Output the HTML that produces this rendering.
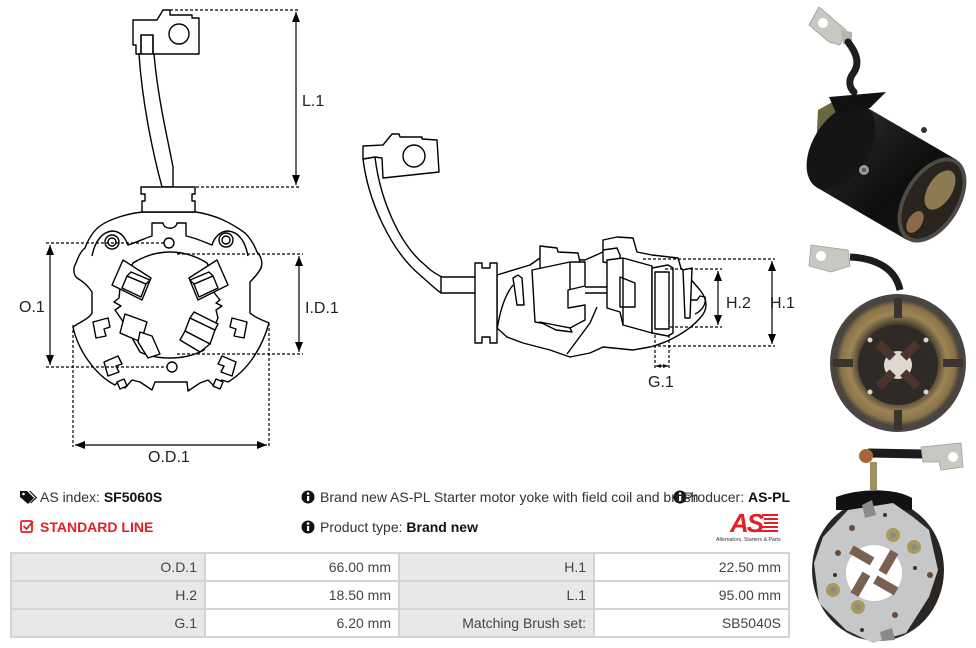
<!DOCTYPE html>
<html><head><meta charset="utf-8">
<style>
html,body{margin:0;padding:0;background:#fff;}
body{width:976px;height:648px;position:relative;overflow:hidden;font-family:"Liberation Sans",sans-serif;}
svg.main{position:absolute;left:0;top:0;}
.t{position:absolute;font-size:14px;color:#333;white-space:nowrap;line-height:16px;}
.c{position:absolute;font-size:14px;color:#444;text-align:right;box-sizing:border-box;padding-right:7px;line-height:26px;white-space:nowrap;}
.g{background:#e8e8e8;}
.w{background:#fff;}
</style></head><body>
<svg class="main" width="976" height="648" viewBox="0 0 976 648" xmlns="http://www.w3.org/2000/svg">
<defs>
<marker id="ar" viewBox="0 0 10 8" refX="10" refY="4" markerWidth="10" markerHeight="8" markerUnits="userSpaceOnUse" orient="auto-start-reverse"><path d="M0,0 L10,4 L0,8 Z" fill="#000"/></marker>
<marker id="ars" viewBox="0 0 6 5" refX="6" refY="2.5" markerWidth="5" markerHeight="4" markerUnits="userSpaceOnUse" orient="auto-start-reverse"><path d="M0,0 L6,2.5 L0,5 Z" fill="#000"/></marker>
<linearGradient id="cyl" x1="0" y1="0" x2="1" y2="1" gradientUnits="objectBoundingBox">
<stop offset="0" stop-color="#3a3a3a"/><stop offset="0.35" stop-color="#1c1c1c"/><stop offset="0.6" stop-color="#0e0e0e"/><stop offset="1" stop-color="#1a1a1a"/></linearGradient>
<radialGradient id="coil" cx="0.5" cy="0.5" r="0.5"><stop offset="0.6" stop-color="#3a322a"/><stop offset="0.78" stop-color="#9c8555"/><stop offset="0.92" stop-color="#8a7448"/><stop offset="1" stop-color="#4a443e"/></radialGradient>
</defs>

<!-- ============ LEFT DRAWING ============ -->
<g fill="#fff" stroke="#000" stroke-width="1.4" stroke-linejoin="round">
<!-- tab -->
<path d="M133,20 L157,20 L163,10 L170,10 L170,15 L192,15 L192,18 L199,18 L199,54 L153,54 L153,35 L141,35 L141,54 L136,54 L136,45 L133,45 Z"/>
<circle cx="179" cy="34" r="10"/>
<path fill="none" d="M141,35 L141,54 M153,35 L153,54"/>
<!-- wire -->
<path d="M139,54 C142,100 152,150 162,187 L173,187 L173,167 C168,140 158,100 154,54 Z"/>
<!-- outer body -->
<path d="M142,212 C125,214 108,220 100,226 C92,232 88,240 85,248 C80,252 78,258 76,263 C73,268 73,274 77,278 C82,281 86,284 89,288 L92,292 L92,313 C90,318 80,322 73,327 C78,350 95,375 115,385 L118,382 L125,388 L132,380 L140,382 L152,390 L155,382 L187,382 L188,391 L200,383 L208,380 L215,387 L222,380 L228,382 C248,370 262,348 269,323 C262,320 254,317 250,313 L250,282 C254,278 258,274 261,268 C263,262 261,256 257,252 C254,244 250,238 245,233 C230,222 215,215 196,212 Z"/>
<!-- connector -->
<path d="M141,187 H195 V194 H192 V201 H195 V212 H142 V201 H145 V194 H141 Z"/>
<!-- inner plate lines -->
<path fill="none" d="M92,256 C95,240 103,232 112,231 C122,231 126,240 128,245 C138,242 145,238 152,236 L152,223 L163,223 C164,230 176,230 177,223 L186,223 L186,236 C196,238 204,242 212,245 C214,238 220,231 228,231 C238,232 245,240 248,256"/>
<circle cx="112" cy="242" r="7"/><circle cx="112" cy="242" r="4"/>
<circle cx="226" cy="240" r="7"/><circle cx="226" cy="240" r="4"/>
<circle cx="169" cy="243" r="5"/>
<circle cx="172" cy="367" r="5"/>
<!-- central window -->
<path d="M133,263 C146,255 158,252 170,252 C183,252 196,256 207,263 L216,280 L212,290 L220,300 L216,303 L222,306 L216,310 L218,318 L204,350 C193,356 182,358 170,358 C158,358 148,356 140,352 L122,320 L115,310 L121,306 L114,302 L119,298 L120,288 Z"/>
<!-- brush holders -->
<polygon points="123,260 112,285 142,300 151,278"/>
<polygon points="127,276 122,288 141,297 146,284"/>
<polygon points="131,272 150,280 146,284 127,276"/>
<polygon points="217,260 228,285 198,300 189,278"/>
<polygon points="213,276 218,288 199,297 194,284"/>
<polygon points="209,272 190,280 194,284 213,276"/>
<polygon points="125,314 147,322 141,342 120,333"/>
<polygon points="140,332 152,336 160,354 148,358 138,342"/>
<polygon points="190,318 215,330 210,344 185,331"/>
<polygon points="194,312 218,324 215,330 190,318"/>
<polygon points="185,331 180,340 200,352 210,344"/>
<!-- side tabs -->
<polygon points="93,322 108,318 110,327 104,329 106,336 96,338"/>
<polygon points="247,322 232,318 230,327 236,329 234,336 244,338"/>
<polygon points="104,362 118,356 122,364 116,366 119,372 108,376"/>
<polygon points="236,362 222,356 218,364 224,366 221,372 232,376"/>
<polygon points="117,382 124,379 127,386 120,389"/>
<polygon points="216,379 223,382 220,389 213,386"/>
</g>
<!-- left dims -->
<g stroke="#000" stroke-width="1.2" fill="none">
<g stroke-dasharray="3,2">
<line x1="170" y1="10" x2="300" y2="10"/>
<line x1="196" y1="187" x2="300" y2="187"/>
<line x1="46" y1="243" x2="164" y2="243"/>
<line x1="46" y1="367" x2="167" y2="367"/>
<line x1="177" y1="254" x2="303" y2="254"/>
<line x1="177" y1="354" x2="303" y2="354"/>
<line x1="73" y1="325" x2="73" y2="447"/>
<line x1="269" y1="323" x2="269" y2="447"/>
</g>
<line x1="296" y1="12" x2="296" y2="185" marker-start="url(#ar)" marker-end="url(#ar)"/>
<line x1="50" y1="245" x2="50" y2="365" marker-start="url(#ar)" marker-end="url(#ar)"/>
<line x1="299" y1="256" x2="299" y2="352" marker-start="url(#ar)" marker-end="url(#ar)"/>
<line x1="75" y1="445" x2="267" y2="445" marker-start="url(#ar)" marker-end="url(#ar)"/>
</g>
<g font-family="Liberation Sans, sans-serif" font-size="16" fill="#222">
<text x="302" y="106">L.1</text>
<text x="19" y="312">O.1</text>
<text x="305" y="313">I.D.1</text>
<text x="148" y="462">O.D.1</text>
<text x="726" y="308">H.2</text>
<text x="770" y="308">H.1</text>
<text x="648" y="387">G.1</text>
</g>

<!-- ============ MIDDLE DRAWING ============ -->
<g fill="#fff" stroke="#000" stroke-width="1.4" stroke-linejoin="round">
<!-- wire -->
<path d="M363,159 C368,200 390,250 420,275 C428,282 434,288 441,293 L476,293 L476,277 L442,277 C432,272 428,268 425,265 C400,245 380,200 375,157 Z"/>
<line x1="441" y1="277" x2="441" y2="293"/>
<!-- tab -->
<path d="M363,146 L383,145 L392,134 L399,134 L400,137 L422,137 L422,139 L437,140 L439,172 L383,178 L382,158 L375,157 L363,159 Z"/>
<circle cx="414" cy="156" r="11"/>
<!-- body blob -->
<path d="M497,275 L530,265 L540,258 L585,260 L603,252 L603,240 L617,237 L633,238 L637,252 L652,255 L678,258 L681,268 L700,290 C708,300 708,310 700,318 C690,330 670,342 650,347 L633,350 L603,347 L590,353 L570,357 L550,350 L523,343 L507,337 L497,328 Z"/>
<path fill="none" d="M567,354 L590,323 L597,307 M497,330 C500,310 505,295 513,285"/>
<!-- flange -->
<path d="M475,263 H482 V268 H490 V263 H497 V343 H490 V337 H482 V343 H475 Z"/>
<!-- small bracket -->
<polygon points="513,278 518,275 522,278 524,305 517,305"/>
<!-- holder 1 -->
<polygon points="540,246 557,248 558,252 578,253 580,263 560,266 540,270"/>
<polygon points="532,270 570,262 585,262 585,286 568,290 568,308 585,305 585,320 570,328 535,322"/>
<line x1="570" y1="262" x2="570" y2="290"/>
<polygon points="540,322 556,330 572,332 570,328"/>
<!-- connecting bar -->
<path fill="none" d="M585,287 L607,287 M585,293 L607,293"/>
<!-- holder 2 -->
<polygon points="603,262 603,250 617,248 620,255 620,265"/>
<polygon points="607,260 623,258 652,266 652,333 623,325 620,312 607,308"/>
<polygon points="620,277 635,283 635,307 620,307"/>
<line x1="623" y1="258" x2="623" y2="325"/>
<!-- brush box -->
<polygon points="652,268 668,265 673,268 673,333 668,336 652,333"/>
<rect x="655" y="272" width="14" height="57"/>
<!-- right strip & hook -->
<polygon points="683,270 692,268 690,318 685,318"/>
<path fill="none" d="M690,300 L697,300 L700,296 L705,297 C707,305 700,312 695,314"/>
</g>
<g stroke="#000" stroke-width="1.2" fill="none">
<g stroke-dasharray="3,2">
<line x1="643" y1="259" x2="775" y2="259"/>
<line x1="653" y1="346" x2="775" y2="346"/>
<line x1="665" y1="269" x2="722" y2="269"/>
<line x1="670" y1="327" x2="722" y2="327"/>
<line x1="655" y1="335" x2="655" y2="369"/>
<line x1="669" y1="335" x2="669" y2="369"/>
</g>
<line x1="718" y1="271" x2="718" y2="325" marker-start="url(#ar)" marker-end="url(#ar)"/>
<line x1="772" y1="261" x2="772" y2="344" marker-start="url(#ar)" marker-end="url(#ar)"/>
<line x1="656" y1="366" x2="668" y2="366" marker-start="url(#ars)" marker-end="url(#ars)"/>
</g>

<!-- ============ PHOTO 1 ============ -->
<g>
<polygon points="809,25 819,7 846,30 840,45 829,42" fill="#c8c8c2" stroke="#9a9a94" stroke-width="0.8"/>
<circle cx="823" cy="23" r="5" fill="#fff"/>
<polygon points="841,30 852,32 852,44 843,44" fill="#b9b5a8"/>
<path d="M848,42 C858,55 860,65 852,75 C848,82 850,88 854,92" fill="none" stroke="#1e1e1e" stroke-width="7" stroke-linecap="round"/>
<path d="M818,110 L836,100 L845,140 L826,160 L816,150 Z" fill="#6a6840"/>
<polygon points="866,107 957,160 907,240 816,187" fill="url(#cyl)"/>
<ellipse cx="841" cy="147" rx="47" ry="28" transform="rotate(-58 841 147)" fill="#151515"/>
<ellipse cx="932" cy="200" rx="47" ry="28" transform="rotate(-58 932 200)" fill="#4e4a44"/>
<ellipse cx="932" cy="200" rx="43" ry="24" transform="rotate(-58 932 200)" fill="#2a241e"/>
<ellipse cx="940" cy="190" rx="22" ry="12" transform="rotate(-58 940 190)" fill="#8c7a52"/>
<ellipse cx="915" cy="222" rx="12" ry="7" transform="rotate(-58 915 222)" fill="#8a6a48"/>
<path d="M829,97 L886,92 L870,108 L850,112 L836,113 Z" fill="#111"/>
<circle cx="864" cy="170" r="5" fill="#9a9a9a"/><circle cx="864" cy="170" r="2" fill="#555"/>
<circle cx="924" cy="130" r="3" fill="#333"/>
</g>

<!-- ============ PHOTO 2 ============ -->
<g>
<polygon points="811,245 848,250 850,266 831,272 809,266" fill="#c8c8c2" stroke="#a0a09a" stroke-width="0.8"/>
<circle cx="821" cy="256" r="5" fill="#fff"/>
<path d="M850,257 C872,258 895,266 900,290" fill="none" stroke="#1c1c1c" stroke-width="7"/>
<ellipse cx="898" cy="363" rx="68" ry="69" fill="#4a4540"/>
<ellipse cx="898" cy="363" rx="62" ry="63" fill="url(#coil)"/>
<g fill="#3a352f">
<rect x="894" y="298" width="8" height="20"/><rect x="894" y="410" width="8" height="20"/>
<rect x="833" y="359" width="20" height="8"/><rect x="943" y="359" width="20" height="8"/>
</g>
<circle cx="898" cy="365" r="40" fill="#2e2a26"/>
<circle cx="898" cy="365" r="14" fill="#ddd9d0"/>
<g fill="#4a342c">
<rect x="876" y="346" width="20" height="9" transform="rotate(45 886 350)"/>
<rect x="900" y="346" width="20" height="9" transform="rotate(-45 910 350)"/>
<rect x="876" y="375" width="20" height="9" transform="rotate(-45 886 380)"/>
<rect x="900" y="375" width="20" height="9" transform="rotate(45 910 380)"/>
</g>
<g fill="#d8d6d0"><circle cx="870" cy="340" r="2.5"/><circle cx="926" cy="340" r="2.5"/><circle cx="870" cy="392" r="2.5"/><circle cx="926" cy="392" r="2.5"/></g>
</g>

<!-- ============ PHOTO 3 ============ -->
<g>
<path d="M868,453 L923,454" fill="none" stroke="#1c1c1c" stroke-width="9"/>
<circle cx="866" cy="456" r="7" fill="#a8663a"/>
<polygon points="921,447 961,443 963,467 941,470 939,462 923,462" fill="#c8c8c2" stroke="#a0a09a" stroke-width="0.8"/>
<circle cx="953" cy="457" r="5" fill="#fff"/>
<rect x="870" y="462" width="7" height="28" fill="#a09060"/>
<ellipse cx="878" cy="570" rx="66" ry="71" fill="#2a2624"/>
<path d="M836,497 C860,488 895,488 912,498 L912,510 L836,510 Z" fill="#111"/>
<polygon points="848,510 893,503 913,517 929,530 938,570 929,597 906,633 873,643 846,630 819,603 814,563 823,537" fill="#c5c7c8"/>
<circle cx="874" cy="573" r="28" fill="#fff"/>
<g fill="#7a6050">
<rect x="850" y="551" width="24" height="9" transform="rotate(30 862 555)"/>
<rect x="876" y="558" width="24" height="9" transform="rotate(-60 888 562)"/>
<rect x="848" y="580" width="24" height="9" transform="rotate(-60 860 584)"/>
<rect x="874" y="581" width="24" height="9" transform="rotate(30 886 585)"/>
</g>
<g fill="#a89a5a"><circle cx="893" cy="535" r="7"/><circle cx="914" cy="547" r="7"/><circle cx="833" cy="590" r="7"/><circle cx="858" cy="607" r="7"/></g>
<g fill="#8a8a88"><circle cx="893" cy="535" r="3"/><circle cx="914" cy="547" r="3"/><circle cx="833" cy="590" r="3"/><circle cx="858" cy="607" r="3"/></g>
<g fill="#6a4a38"><circle cx="852" cy="528" r="3"/><circle cx="930" cy="575" r="3"/><circle cx="895" cy="615" r="3"/><circle cx="838" cy="553" r="3"/></g>
<g fill="#333"><circle cx="885" cy="515" r="2"/><circle cx="915" cy="568" r="2"/><circle cx="835" cy="575" r="2"/><circle cx="862" cy="630" r="2"/></g>
<path d="M862,505 L872,500 L876,515 L865,518 Z" fill="#8a8a8a"/>
<path d="M880,632 L892,628 L895,640 L882,641 Z" fill="#8a8a8a"/>
</g>

<!-- info icons -->
<g fill="#111">
<path d="M20,491 L27,491 L34,498 L28,504 L20,497 Z"/>
<circle cx="23.5" cy="494" r="1.3" fill="#fff"/>
<path d="M29,491 L30.5,491 L37,497.5 L31,503.5 L30.2,502.7 L35.3,497.5 Z"/>
<circle cx="308" cy="497" r="6.5"/>
<circle cx="308" cy="527" r="6.5"/>
<circle cx="680" cy="497" r="6.5"/>
</g>
<g fill="#fff">
<rect x="307" y="496" width="2.2" height="5"/><circle cx="308.1" cy="493.5" r="1.3"/>
<rect x="307" y="526" width="2.2" height="5"/><circle cx="308.1" cy="523.5" r="1.3"/>
<rect x="679" y="496" width="2.2" height="5"/><circle cx="680.1" cy="493.5" r="1.3"/>
</g>
<g fill="none" stroke="#e41e26" stroke-width="1.8">
<rect x="21" y="521" width="11" height="11" rx="1.5"/>
<path d="M23.5,526 L26.5,529 L33,521.5"/>
</g>

<!-- logo -->
<g>
<text x="730" y="532" font-family="Liberation Sans, sans-serif" font-size="26" font-weight="bold" font-style="italic" fill="#e41e26" letter-spacing="-2">AS</text>
<g fill="#e41e26">
<rect x="762" y="514" width="16" height="2"/><rect x="764" y="518" width="14" height="2"/><rect x="764" y="522" width="14" height="2"/><rect x="762" y="526" width="16" height="2"/><rect x="758" y="530" width="20" height="2"/>
</g>
<text x="716" y="541" font-family="Liberation Sans, sans-serif" font-size="5.2" fill="#333">Alternators, Starters &amp; Parts</text>
</g>
</svg>

<div class="t" style="left:40px;top:489px;">AS index: <b style="color:#111">SF5060S</b></div>
<div class="t" style="left:40px;top:519px;color:#e41e26;font-weight:bold;">STANDARD LINE</div>
<div class="t" style="left:320px;top:489px;">Brand new AS-PL Starter motor yoke with field coil and brush</div>
<div class="t" style="left:320px;top:519px;">Product type: <b style="color:#111">Brand new</b></div>
<div class="t" style="right:186px;top:489px;">Producer: <b style="color:#111">AS-PL</b></div>

<!-- table -->
<div style="position:absolute;left:10px;top:552px;width:780px;height:86px;background:#d4d4d4;"></div>
<div class="c g" style="left:12px;top:554px;width:192px;height:26px;">O.D.1</div>
<div class="c w" style="left:206px;top:554px;width:192px;height:26px;">66.00 mm</div>
<div class="c g" style="left:400px;top:554px;width:193px;height:26px;">H.1</div>
<div class="c w" style="left:595px;top:554px;width:193px;height:26px;">22.50 mm</div>
<div class="c g" style="left:12px;top:582px;width:192px;height:26px;">H.2</div>
<div class="c w" style="left:206px;top:582px;width:192px;height:26px;">18.50 mm</div>
<div class="c g" style="left:400px;top:582px;width:193px;height:26px;">L.1</div>
<div class="c w" style="left:595px;top:582px;width:193px;height:26px;">95.00 mm</div>
<div class="c g" style="left:12px;top:610px;width:192px;height:26px;">G.1</div>
<div class="c w" style="left:206px;top:610px;width:192px;height:26px;">6.20 mm</div>
<div class="c g" style="left:400px;top:610px;width:193px;height:26px;">Matching Brush set:</div>
<div class="c w" style="left:595px;top:610px;width:193px;height:26px;">SB5040S</div>
</body></html>
